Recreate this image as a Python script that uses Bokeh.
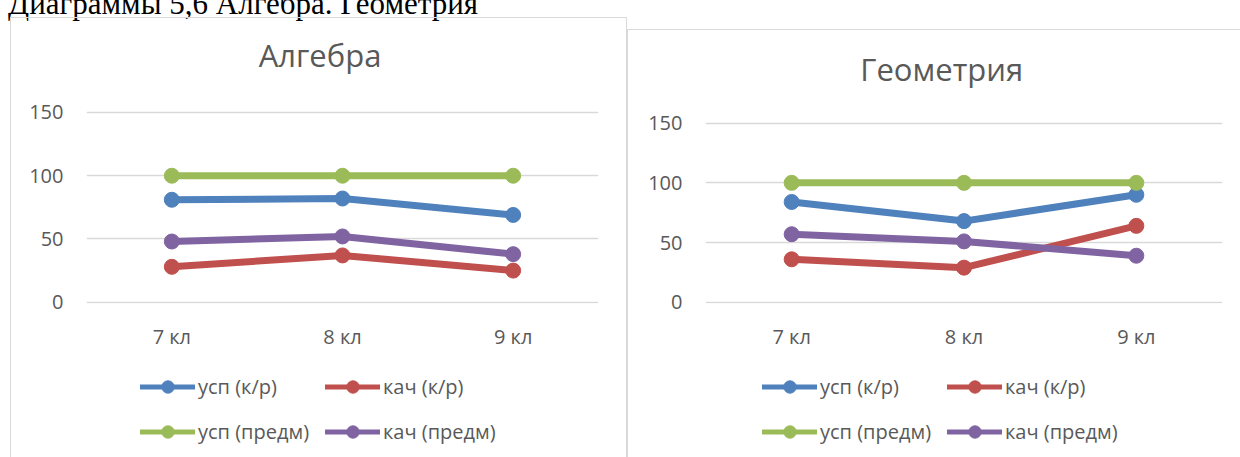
from bokeh.plotting import figure
from bokeh.models import (FactorRange, Range1d, FixedTicker, Legend, LegendItem,
                          Div, Spacer, ColumnDataSource, Label)
from bokeh.layouts import row, column
from bokeh.embed import file_html
from bokeh.resources import INLINE

# ---------------- data ----------------
categories = ["7 кл", "8 кл", "9 кл"]
series_names = ["усп (к/р)", "кач (к/р)", "усп (предм)", "кач (предм)"]
series_colors = ["#4f81bd", "#c0504d", "#9bbb59", "#8064a2"]

algebra_usp_kr = [81, 82, 69]
algebra_kach_kr = [28, 37, 25]
algebra_usp_predm = [100, 100, 100]
algebra_kach_predm = [48, 52, 38]

geometry_usp_kr = [84, 68, 90]
geometry_kach_kr = [36, 29, 64]
geometry_usp_predm = [100, 100, 100]
geometry_kach_predm = [57, 51, 39]

y_ticks = [0, 50, 100, 150]

page_heading = "Диаграммы 5,6 Алгебра. Геометрия"
title_algebra = "Алгебра"
title_geometry = "Геометрия"

# ---------------- style ----------------
FONT = "Open Sans"
TXT = "#595959"
GRID = "#d9d9d9"
LINE_W = 7
MARK = 15


def make_chart(title, series, width, height, b_left, b_right, b_bottom,
               y_end, title_xy, shadow):
    # the frame reaches the top of the canvas so that the title sits inside it
    p = figure(width=width, height=height,
               x_range=FactorRange(*categories),
               y_range=Range1d(-1, y_end),
               output_backend="svg", toolbar_location=None,
               min_border_left=b_left, min_border_right=b_right,
               min_border_top=0, min_border_bottom=b_bottom,
               styles={"box-shadow": shadow})
    p.border_fill_color = None
    p.background_fill_color = None
    p.outline_line_color = None

    p.add_layout(Label(x=title_xy[0], y=title_xy[1], x_units="screen",
                       y_units="screen", text=title, text_align="center",
                       text_baseline="alphabetic", text_font=FONT,
                       text_font_size="31px", text_color=TXT))

    p.yaxis.ticker = FixedTicker(ticks=y_ticks)
    for ax in (p.xaxis[0], p.yaxis[0]):
        ax.axis_line_color = None
        ax.major_tick_line_color = None
        ax.minor_tick_line_color = None
        ax.major_tick_out = 0
        ax.major_tick_in = 0
        ax.major_label_text_font = FONT
        ax.major_label_text_font_size = "20px"
        ax.major_label_text_color = TXT
    p.yaxis.major_label_standoff = 23
    p.xaxis.major_label_standoff = 19

    p.xgrid.grid_line_color = None
    p.ygrid.grid_line_color = GRID
    p.ygrid.grid_line_width = 1.5

    for color, vals in zip(series_colors, series):
        src = ColumnDataSource(dict(x=categories, y=vals))
        p.line("x", "y", source=src, line_color=color, line_width=LINE_W,
               line_join="round", line_cap="round")
        p.scatter("x", "y", source=src, size=MARK, fill_color=color,
                  line_color=color)
    return p


def make_legend_fig(series, width, height, loc, shadow):
    # a strip below the chart that only carries the legend; its y range lies
    # above the data so the series themselves stay out of view here
    lf = figure(width=width, height=height, x_range=FactorRange(*categories),
                y_range=Range1d(1000, 1001), x_axis_type=None, y_axis_type=None,
                output_backend="svg", toolbar_location=None,
                min_border=0, styles={"box-shadow": shadow})
    lf.border_fill_color = None
    lf.background_fill_color = None
    lf.outline_line_color = None
    lf.grid.visible = False
    items = []
    for name, color, vals in zip(series_names, series_colors, series):
        src = ColumnDataSource(dict(x=categories, y=vals))
        ln = lf.line("x", "y", source=src, line_color=color, line_width=5,
                     line_cap="round")
        sc = lf.scatter("x", "y", source=src, size=MARK, fill_color=color,
                        line_color=color)
        items.append(LegendItem(label=name, renderers=[ln, sc]))
    legend = Legend(items=items, location=loc, orientation="horizontal",
                    ncols=2, glyph_width=55, glyph_height=31, label_height=31,
                    label_width=113, label_standoff=3, spacing=14, padding=0,
                    margin=0, border_line_color=None, background_fill_alpha=0,
                    label_text_font=FONT, label_text_font_size="20px",
                    label_text_color=TXT)
    lf.add_layout(legend, "center")
    return lf


algebra = [algebra_usp_kr, algebra_kach_kr, algebra_usp_predm, algebra_kach_predm]
geometry = [geometry_usp_kr, geometry_kach_kr, geometry_usp_predm, geometry_kach_predm]

p1 = make_chart(title_algebra, algebra, width=617, height=338, b_left=76,
                b_right=29, b_bottom=52, y_end=225.1, title_xy=(233.5, 248.2),
                shadow=f"inset 1px 1px 0 {GRID}, inset -1px 0 0 {GRID}")
l1 = make_legend_fig(algebra, 617, 102, (54, 10),
                     shadow=f"inset 1px 0 0 {GRID}, inset -1px 0 0 {GRID}")

p2 = make_chart(title_geometry, geometry, width=613, height=326, b_left=78,
                b_right=18, b_bottom=52, y_end=228.4, title_xy=(236.2, 234.7),
                shadow=f"inset 1px 1px 0 {GRID}")
l2 = make_legend_fig(geometry, 613, 102, (57, 10), shadow=f"inset 1px 0 0 {GRID}")

heading = Div(
    text=(f'<div style="position:relative; top:-12px; left:8px; '
          f'font-family:\'Liberation Serif\'; font-size:31px; line-height:31px; '
          f'white-space:nowrap; color:#000;">{page_heading}</div>'),
    width=1240, height=17, margin=0, styles={"overflow": "visible"})

layout = column(heading,
                row(Spacer(width=10, height=10, margin=0),
                    column(p1, l1),
                    column(Spacer(width=613, height=12, margin=0), p2, l2)))

open("out.html", "w").write(file_html(layout, INLINE))
